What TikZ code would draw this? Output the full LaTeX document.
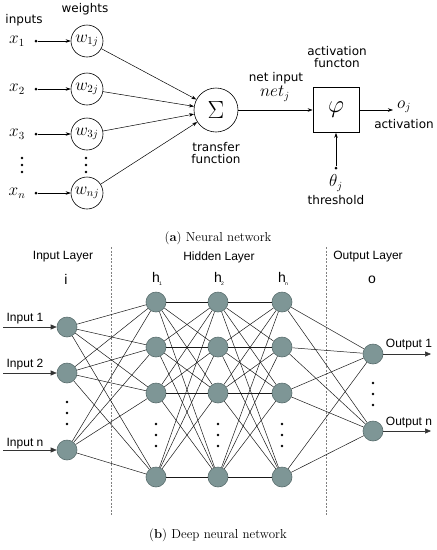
\documentclass[tikz,border=0pt]{standalone}
\usepackage{fontspec}
\newfontfamily\dv{DejaVu Sans}
\newfontfamily\ar{Liberation Sans}
\usetikzlibrary{arrows.meta}
\definecolor{nodefill}{HTML}{7E9696}
\definecolor{nodeline}{HTML}{5A6E6E}
\definecolor{dashc}{HTML}{808080}
\tikzset{
  lbl/.style={font=\dv\fontsize{12}{12}\selectfont, inner sep=0},
  mth/.style={font=\fontsize{16}{16}\selectfont, inner sep=0},
  wnode/.style={circle, draw, line width=0.6pt, minimum size=32pt, inner sep=0, font=\fontsize{16}{16}\selectfont},
  arr/.style={-{Stealth[length=5pt,width=3.5pt]}, line width=0.5pt},
  dotp/.style={circle, fill, inner sep=0, minimum size=3pt},
  vdot/.style={circle, fill, inner sep=0, minimum size=2.6pt},
  blbl/.style={font=\ar\fontsize{12}{12}\selectfont, inner sep=0},
  ltr/.style={font=\ar\fontsize{14}{14}\selectfont, inner sep=0},
  neuron/.style={circle, inner sep=0, minimum size=20pt, fill=nodefill, draw=nodeline, line width=0.6pt},
  nnedge/.style={line width=0.5pt, draw=black!90},
  inarr/.style={-{Triangle[length=6pt,width=5pt]}, line width=0.6pt, draw=black!80},
  layerline/.style={dashc, line width=0.6pt, dash pattern=on 2pt off 1.5pt},
  captxt/.style={font=\fontsize{13}{15}\selectfont, inner sep=0}
}
\begin{document}
\begin{tikzpicture}[x=1pt,y=-1pt]
\useasboundingbox (0,0) rectangle (437,550);

% ---------- (a) single neuron ----------
\node[lbl] (inputs) at (24,20) {inputs};
\node[lbl] (weights) at (85,9) {weights};

\node[circle, draw, line width=0.6pt, minimum size=44pt, inner sep=0] (sum) at (216,110) {\fontsize{30}{30}\selectfont$\Sigma$};
\node[lbl] (transfer) at (216,147) {transfer};
\node[lbl] (function) at (216,159) {function};

\foreach \i/\y in {1/41, 2/89, 3/134, n/193}{
  \node[mth] (x\i) at (17,\y) {$x_{\i}$};
  \node[dotp] (d\i) at (36,\y) {};
  \node[wnode] (w\i) at (87,\y) {$w_{\i j}$};
  \draw[arr] (d\i) -- (w\i);
  \draw[arr] (w\i) -- (sum);
}
\foreach \yy [count=\k] in {158,165,172}{
  \node[vdot] (xv\k) at (22,\yy) {};
  \node[vdot] (wv\k) at (86,\yy) {};
}

\node[draw, line width=0.7pt, minimum width=46pt, minimum height=45pt, inner sep=0] (act) at (336,110) {\fontsize{28}{28}\selectfont$\varphi$};
\draw[arr] (sum) -- (act);
\node[lbl] (netin) at (276,78) {net input};
\node[mth] (netj) at (275,94) {$net_j$};
\node[lbl] (actf1) at (337,51) {activation};
\node[lbl] (actf2) at (337,63) {functon};

\coordinate (oend) at (393,110);
\draw[arr] (act) -- (oend);
\node[mth] (oj) at (404,107) {$o_j$};
\node[lbl] (actv) at (404,124) {activation};

\node[dotp] (thd) at (336,168) {};
\draw[arr] (thd) -- (act);
\node[mth] (theta) at (336,183) {$\theta_j$};
\node[lbl] (thres) at (336,200) {threshold};

\node[captxt] (capa) at (218,238) {(\textbf{a}) Neural network};

% ---------- (b) deep network ----------
\coordinate (l1t) at (111,247); \coordinate (l1b) at (111,515);
\coordinate (l2t) at (326,247); \coordinate (l2b) at (326,515);
\draw[layerline] (l1t) -- (l1b);
\draw[layerline] (l2t) -- (l2b);

\node[blbl] (il) at (63,257) {Input Layer};
\node[blbl] (hl) at (219,257) {Hidden Layer};
\node[blbl] (ol) at (368,257) {Output Layer};

\newcommand{\hsub}[1]{h\kern-1pt\raisebox{-2.5pt}{\fontsize{5}{5}\selectfont #1}}
\node[ltr] (li) at (66,279) {i};
\node[ltr] (lh1) at (157,279) {\hsub{1}};
\node[ltr] (lh2) at (219,279) {\hsub{2}};
\node[ltr] (lh3) at (283,279) {\hsub{n}};
\node[ltr] (lo) at (372,280) {o};

% input nodes
\foreach \y [count=\k] in {327,373,450}{
  \node[neuron] (i\k) at (67,\y) {};
}
% hidden nodes
\foreach \x [count=\c] in {156,218,282}{
  \foreach \y [count=\r] in {302,347,393,477}{
    \node[neuron] (h\c\r) at (\x,\y) {};
  }
}
% output nodes
\node[neuron] (o1) at (373,354) {};
\node[neuron] (o2) at (373,431) {};

% connections
\foreach \a in {1,2,3}{
  \foreach \b in {1,2,3,4}{
    \draw[nnedge] (i\a) -- (h1\b);
  }
}
\foreach \a in {1,2,3,4}{
  \foreach \b in {1,2,3,4}{
    \draw[nnedge] (h1\a) -- (h2\b);
    \draw[nnedge] (h2\a) -- (h3\b);
  }
  \draw[nnedge] (h3\a) -- (o1);
  \draw[nnedge] (h3\a) -- (o2);
}

% dots
\foreach \yy [count=\k] in {402,413,424}{
  \node[vdot] (iv\k) at (67,\yy) {};
}
\foreach \x [count=\c] in {156,218,282}{
  \foreach \yy [count=\k] in {424,435,446}{
    \node[vdot] (hv\c\k) at (\x,\yy) {};
  }
}
\foreach \yy [count=\k] in {383,394,405}{
  \node[vdot] (ov\k) at (373,\yy) {};
}

% input / output arrows
\coordinate (is1) at (3,327);
\coordinate (is2) at (3,373);
\coordinate (is3) at (3,450);
\foreach \k in {1,2,3}{ \draw[inarr] (is\k) -- (i\k); }
\node[blbl] (in1) at (25,319) {Input 1};
\node[blbl] (in2) at (25,365) {Input 2};
\node[blbl] (in3) at (25,444) {Input n};

\coordinate (oe1) at (431,354);
\coordinate (oe2) at (431,431);
\draw[inarr] (o1) -- (oe1);
\draw[inarr] (o2) -- (oe2);
\node[blbl] (out1) at (409,345) {Output 1};
\node[blbl] (out2) at (409,423) {Output n};

\node[captxt] (capb) at (218,535) {(\textbf{b}) Deep neural network};
\end{tikzpicture}
\end{document}
